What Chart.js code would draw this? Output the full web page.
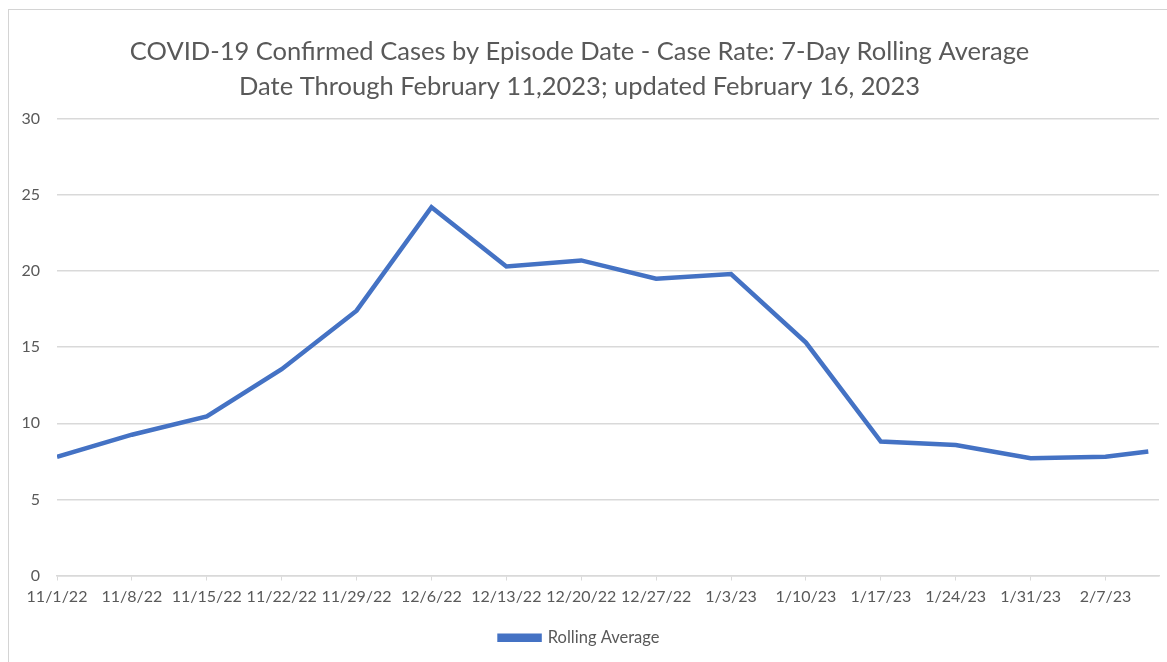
<!DOCTYPE html>
<html>
<head>
<meta charset="utf-8">
<script src="https://cdn.jsdelivr.net/npm/chart.js@4/dist/chart.umd.min.js"></script>
<style>
  html, body { margin: 0; padding: 0; background: #fff; }
  #wrap { position: relative; width: 1167px; height: 662px; overflow: hidden; }
  #frame { position: absolute; left: 8px; top: 9px; width: 1300px; height: 800px;
           border-left: 1px solid #d4d4d4; border-top: 1px solid #d4d4d4; }
  canvas { position: absolute; left: 0; top: 0; }
</style>
</head>
<body>
<div id="wrap">
  <div id="frame"></div>
  <canvas id="chart" width="1167" height="662"></canvas>
</div>
<script>
const titleLines = [
    'COVID-19 Confirmed Cases by Episode Date - Case Rate: 7-Day Rolling Average',
    'Date Through February 11,2023; updated February 16, 2023'
];
const seriesName = 'Rolling Average';

// episode dates of each point (weekly, last one is the partial week)
const pointDates = [
    '2022-11-01', '2022-11-08', '2022-11-15', '2022-11-22', '2022-11-29',
    '2022-12-06', '2022-12-13', '2022-12-20', '2022-12-27', '2023-01-03',
    '2023-01-10', '2023-01-17', '2023-01-24', '2023-01-31', '2023-02-07',
    '2023-02-11'
];
const rollingAverage = [
    7.8, 9.25, 10.45, 13.55, 17.4,
    24.2, 20.3, 20.7, 19.5, 19.8,
    15.3, 8.8, 8.57, 7.7, 7.8,
    8.15
];
const tickLabels = [
    '11/1/22', '11/8/22', '11/15/22', '11/22/22', '11/29/22', '12/6/22',
    '12/13/22', '12/20/22', '12/27/22', '1/3/23', '1/10/23', '1/17/23',
    '1/24/23', '1/31/23', '2/7/23'
];
const yTicks = [0, 5, 10, 15, 20, 25, 30];

const dayMs = 864e5;
const start = Date.parse(pointDates[0]);
const toDay = (d) => (Date.parse(d) - start) / dayMs;

const points = pointDates.map((d, i) => ({ x: toDay(d), y: rollingAverage[i] }));
const tickDays = tickLabels.map((_, i) => i * 7);

const textColor = '#595959';
const gridColor = '#d9d9d9';
const fontFamily = 'Lato, "Open Sans", sans-serif';

new Chart(document.getElementById('chart'), {
    type: 'line',
    data: {
        datasets: [{
            label: seriesName,
            data: points,
            borderColor: '#4472C4',
            backgroundColor: '#4472C4',
            borderWidth: 4.5,
            pointRadius: 0,
            tension: 0
        }]
    },
    options: {
        responsive: false,
        animation: false,
        layout: { padding: { left: 0, right: 8, top: 0, bottom: 6 } },
        plugins: {
            title: {
                display: true,
                text: titleLines,
                color: textColor,
                font: { family: fontFamily, size: 25.5, weight: 'normal', lineHeight: 1.37 },
                padding: { top: 34, bottom: 15 }
            },
            legend: {
                position: 'bottom',
                labels: {
                    color: textColor,
                    font: { family: fontFamily, size: 16.5 },
                    boxWidth: 40,
                    boxHeight: 4,
                    padding: 9
                }
            },
            tooltip: { enabled: false }
        },
        scales: {
            x: {
                type: 'linear',
                min: 0,
                max: 103,
                afterBuildTicks: (scale) => {
                    scale.ticks = tickDays.map(v => ({ value: v }));
                },
                afterFit: (scale) => { scale.height = 45; },
                ticks: {
                    color: textColor,
                    font: { family: fontFamily, size: 16 },
                    maxRotation: 0,
                    autoSkip: false,
                    padding: 7,
                    callback: (v) => tickLabels[tickDays.indexOf(v)]
                },
                grid: {
                    drawOnChartArea: false,
                    drawTicks: true,
                    tickLength: 5,
                    color: gridColor
                },
                border: { display: true, color: gridColor, width: 1.5 }
            },
            y: {
                min: 0,
                max: 30,
                afterBuildTicks: (scale) => {
                    scale.ticks = yTicks.map(v => ({ value: v }));
                },
                afterFit: (scale) => { scale.width = 57; },
                ticks: {
                    color: textColor,
                    font: { family: fontFamily, size: 16 },
                    padding: 17
                },
                grid: { color: gridColor, lineWidth: 1.5, drawTicks: false },
                border: { display: false }
            }
        }
    }
});
</script>
</body>
</html>
